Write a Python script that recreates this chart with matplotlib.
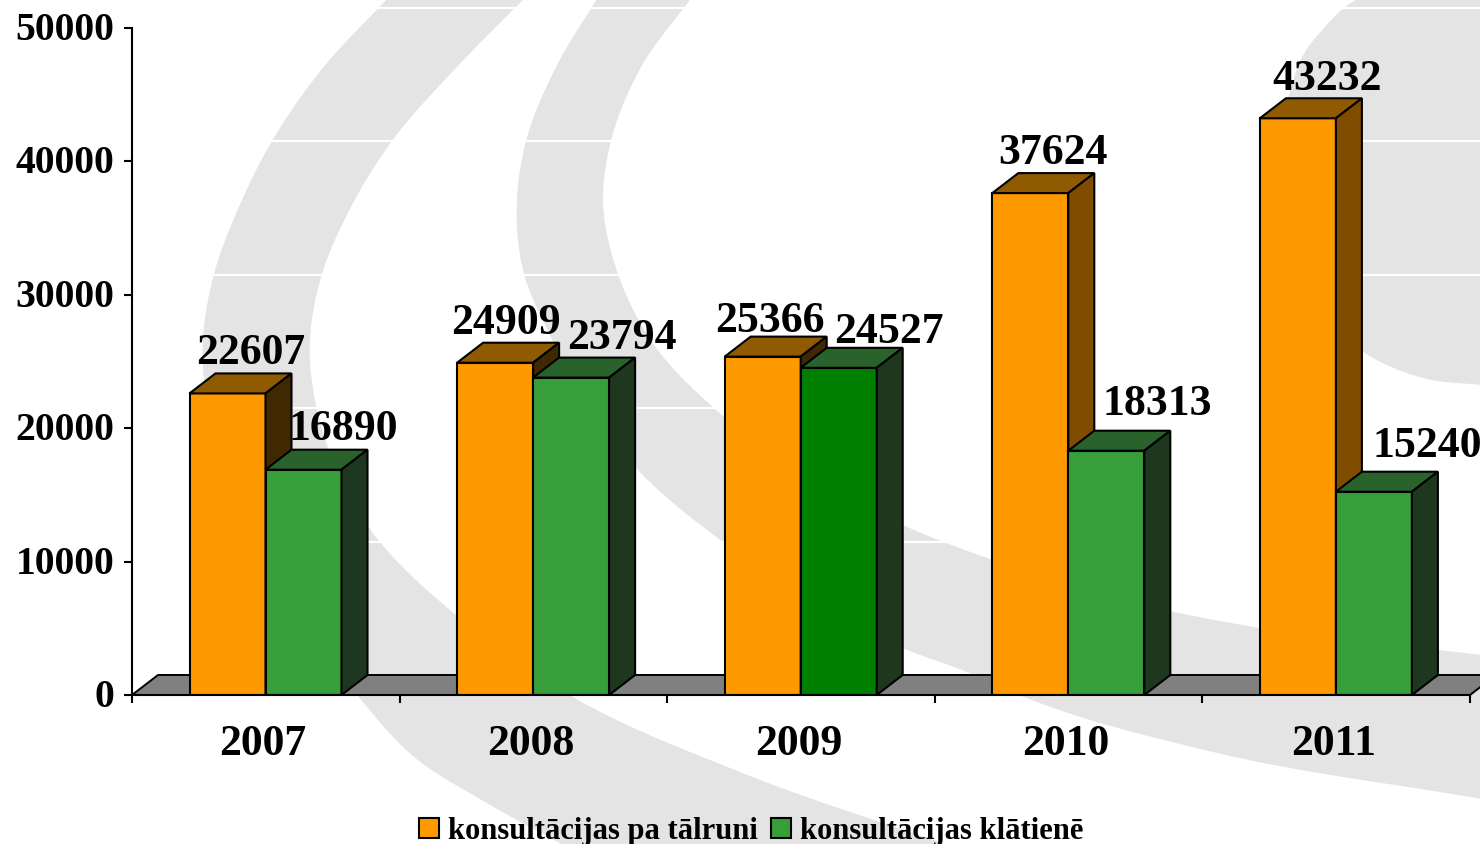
import numpy as np
import matplotlib
matplotlib.use('Agg')
import matplotlib.pyplot as plt
from matplotlib.patches import Polygon, Patch, PathPatch
from matplotlib.path import Path
from matplotlib.transforms import offset_copy

years = ['2007', '2008', '2009', '2010', '2011']
phone = [22607, 24909, 25366, 37624, 43232]
inperson = [16890, 23794, 24527, 18313, 15240]
phone_name = 'konsultācijas pa tālruni'
inperson_name = 'konsultācijas klātienē'

phone_color = '#FF9900'
green_color = '#389E3A'
phone_top = '#8F5A00'
phone_side = ['#402900', '#402900', '#402900', '#804D00', '#804D00']
green_front = [green_color, green_color, '#008000', green_color, green_color]
green_top = '#2A622B'
green_side = '#1E371F'
swoosh_color = '#E4E4E4'

# label offsets from the middle of the bar front, in pixels
phone_label_dx = [23, 11, 7, 23, 29]
phone_label_dy = [30, 30, 26, 30, 29]
green_label_dx = [40, 51, 50, 51, 53]
green_label_dy = [31, 30, 26, 37, 36]

W, H = 1480, 845
plt.rcParams['font.family'] = ['Liberation Serif', 'DejaVu Serif']
plt.rcParams['font.weight'] = 'bold'

fig = plt.figure(figsize=(W / 100, H / 100), dpi=100)


def smooth(points, n=16):
    # hermite curve through the outline points of a background shape
    p = np.array(points, dtype=float)
    t = np.r_[0, np.cumsum(np.hypot(*np.diff(p, axis=0).T))]
    m = np.gradient(p, t, axis=0)
    out = []
    for i in range(len(p) - 1):
        h = t[i + 1] - t[i]
        for s in np.linspace(0, 1, n, endpoint=False):
            out.append((2 * s ** 3 - 3 * s ** 2 + 1) * p[i] + (s ** 3 - 2 * s ** 2 + s) * h * m[i]
                       + (-2 * s ** 3 + 3 * s ** 2) * p[i + 1] + (s ** 3 - s ** 2) * h * m[i + 1])
    out.append(p[-1])
    return np.array(out)


def band(outer, inner):
    verts = np.vstack([smooth(outer), smooth(inner)[::-1]])
    return PathPatch(Path(np.vstack([verts, verts[0]])), fc=swoosh_color, ec='none')


# background watermark, in picture pixels
bg = fig.add_axes([0, 0, 1, 1], zorder=0)
bg.set_xlim(0, W)
bg.set_ylim(H, 0)
bg.axis('off')
bg.add_patch(band([(389, -2), (322, 70), (272, 142), (238, 210), (214, 275), (203, 340), (210, 420), (240, 500), (295, 610),
                   (358, 697), (413, 757), (485, 803), (565, 847)],
                  [(526, -2), (455, 70), (392, 142), (350, 210), (322, 275), (310, 340), (325, 440), (368, 527), (457, 617),
                   (573, 698), (740, 773), (951, 847)]))
bg.add_patch(band([(598, -2), (555, 70), (526, 142), (517, 200), (524, 275), (547, 330), (637, 470), (723, 543), (905, 650),
                   (967, 673), (1024, 698), (1213, 753), (1482, 800)],
                  [(692, -2), (640, 70), (611, 142), (603, 200), (618, 275), (650, 340), (723, 417), (905, 527), (990, 560),
                   (1170, 612), (1260, 629), (1482, 656)]))
bg.add_patch(band([(1360, -2), (1345, 8), (1323, 30), (1305, 53), (1288, 100), (1278, 200), (1305, 295), (1363, 353), (1427, 380), (1482, 386)],
                  [(1482, -2), (1482, 386)]))

ax = fig.add_axes([132 / W, 1 - 696 / H, (1470 - 132) / W, (696 - 29) / H], zorder=1)
ax.patch.set_visible(False)
ax.set_xlim(0, 5)
ax.set_ylim(0, 50000)

# 3d look: depth of the boxes in data units
dx = 26 / ((1470 - 132) / 5)
dy = 20 / (667 / 50000)
bar_w = 76 / ((1470 - 132) / 5)
first = 57.5 / ((1470 - 132) / 5)

yticks = [0, 10000, 20000, 30000, 40000, 50000]

ax.hlines([t + dy for t in yticks[1:]], dx, 5 + dx, color='white', lw=1.6, zorder=0.5, clip_on=False)
ax.add_patch(Polygon([(0, 0), (dx, dy), (5 + dx, dy), (5, 0)], closed=True, fc='#808080', ec='black',
                     lw=1.4, zorder=1, clip_on=False))


def box(x, v, front, top, side):
    ax.bar(x, v, bar_w, align='edge', color=front, edgecolor='black', linewidth=1.5, zorder=2)
    ax.add_patch(Polygon([(x, v), (x + dx, v + dy), (x + bar_w + dx, v + dy), (x + bar_w, v)], closed=True,
                         fc=top, ec='black', lw=1.5, zorder=2, clip_on=False))
    ax.add_patch(Polygon([(x + bar_w, 0), (x + bar_w + dx, dy), (x + bar_w + dx, v + dy), (x + bar_w, v)], closed=True,
                         fc=side, ec='black', lw=1.5, zorder=2, clip_on=False))


for i in range(len(years)):
    box(i + first, phone[i], phone_color, phone_top, phone_side[i])
    box(i + first + bar_w, inperson[i], green_front[i], green_top, green_side)

    ax.annotate(str(phone[i]), (i + first + bar_w / 2, phone[i]),
                xytext=(phone_label_dx[i], phone_label_dy[i]), textcoords='offset pixels',
                ha='center', va='baseline', fontsize=31.5, zorder=3, annotation_clip=False)
    ax.annotate(str(inperson[i]), (i + first + bar_w * 1.5, inperson[i]),
                xytext=(green_label_dx[i], green_label_dy[i]), textcoords='offset pixels',
                ha='center', va='baseline', fontsize=31.5, zorder=3, annotation_clip=False)

ax.spines['top'].set_visible(False)
ax.spines['right'].set_visible(False)
ax.spines['left'].set_linewidth(1.5)
ax.spines['bottom'].set_linewidth(1.5)
ax.spines['left'].set_zorder(4)
ax.spines['bottom'].set_zorder(4)

ax.set_yticks(yticks)
ax.set_yticklabels([str(t) for t in yticks], fontsize=28.5, fontweight='bold')
ax.tick_params(axis='y', length=6, width=1.5, pad=6.5)
for lab in ax.get_yticklabels():
    lab.set_transform(offset_copy(lab.get_transform(), fig=fig, y=3, units='dots'))
ax.set_xticks(range(6))
ax.set_xticklabels([])
ax.tick_params(axis='x', length=6, width=1.5)
ax.set_xticks([i + 0.49 for i in range(5)], minor=True)
ax.set_xticklabels(years, minor=True, fontsize=31.5, fontweight='bold')
ax.tick_params(axis='x', which='minor', length=0, pad=20)

fig.legend(handles=[Patch(fc=phone_color, ec='black', lw=1.5, label=phone_name),
                    Patch(fc=green_color, ec='black', lw=1.5, label=inperson_name)],
           loc='center', bbox_to_anchor=(751 / W, 1 - 832 / H), ncol=2, frameon=False,
           fontsize=22, handlelength=0.65, handleheight=0.65, handletextpad=0.3,
           columnspacing=0.43, borderpad=0, borderaxespad=0)

fig.savefig('out.png', dpi=100)
